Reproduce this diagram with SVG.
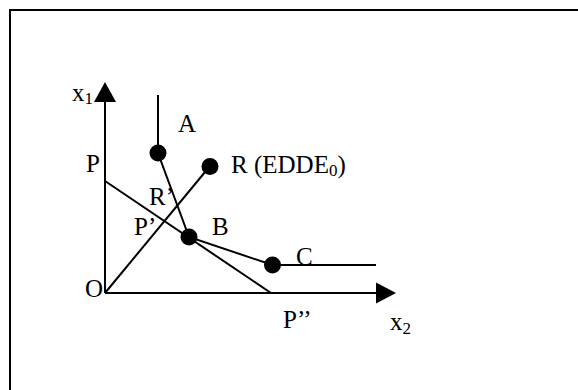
<svg xmlns="http://www.w3.org/2000/svg" width="578" height="390" viewBox="0 0 578 390">
<style>
.ln{stroke:#000;stroke-width:2;fill:none}
.t{font-family:"Liberation Serif","Times New Roman",serif;font-size:25px;fill:#000}
.s{font-size:17px}
.dot{fill:#000}
</style>
<rect x="0" y="0" width="578" height="390" fill="#fff"/>
<path d="M10,390 V10 H578" stroke="#000" stroke-width="2" fill="none"/>
<g id="connectors">
<line class="ln" x1="105" y1="293" x2="105" y2="100"/>
<polygon points="105,82 94,102 116,102" fill="#000"/>
<line class="ln" x1="105" y1="293" x2="378" y2="293"/>
<polygon points="396,293 376,282.5 376,303.5" fill="#000"/>
<line class="ln" x1="105" y1="181" x2="271" y2="293"/>
<line class="ln" x1="105" y1="293" x2="210" y2="166"/>
<polyline class="ln" points="158,95 158,153 189,237 272.5,265 376,265"/>
</g>
<g id="A"><circle class="dot" cx="158" cy="153" r="8.5"/><text class="t" x="178" y="132">A</text></g>
<g id="B"><circle class="dot" cx="189" cy="237" r="8.5"/><text class="t" x="212" y="235">B</text></g>
<g id="C"><circle class="dot" cx="272.5" cy="265" r="8.5"/><text class="t" x="296" y="265">C</text></g>
<g id="R"><circle class="dot" cx="210" cy="166.5" r="8.5"/><text class="t" x="231" y="173">R (EDDE<tspan class="s" dy="3">0</tspan><tspan dy="-3">)</tspan></text></g>
<g id="O"><text class="t" x="85" y="297">O</text></g>
<g id="P"><text class="t" x="86" y="172">P</text></g>
<g id="Rp"><text class="t" x="149" y="205">R’</text></g>
<g id="Pp"><text class="t" x="134" y="235">P’</text></g>
<g id="Ppp"><text class="t" x="283" y="328">P’’</text></g>
<g id="x1"><text class="t" x="72" y="101">x<tspan class="s" dy="3">1</tspan></text></g>
<g id="x2"><text class="t" x="390" y="330">x<tspan class="s" dy="4">2</tspan></text></g>
</svg>
